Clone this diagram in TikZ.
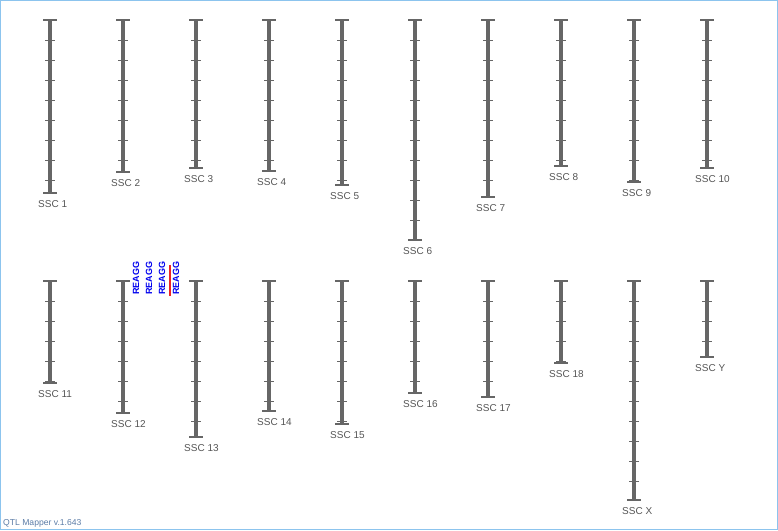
\documentclass[tikz,border=0pt]{standalone}
\usepackage{fontspec}
\setmainfont{Liberation Sans}
\usetikzlibrary{positioning}

\definecolor{barcol}{HTML}{666666}
\definecolor{lblcol}{HTML}{555555}
\definecolor{framecol}{HTML}{8CC4EE}
\definecolor{vercol}{HTML}{5A7BA6}
\definecolor{qtlblue}{HTML}{0000EE}
\definecolor{qtlred}{HTML}{EE2222}

\begin{document}
\begin{tikzpicture}[x=1pt,y=-1pt,
  chrom/.style={line width=4pt,color=barcol},
  endcap/.style={line width=1.6pt,color=barcol},
  tickmark/.style={line width=1pt,color=barcol},
  lbl/.style={anchor=west,inner sep=0pt,text=lblcol,font=\fontsize{10}{12}\selectfont},
  reagg/.style={rotate=90,anchor=west,inner sep=0pt,text=qtlblue,font=\bfseries\fontsize{9}{11}\selectfont},
  qtlbar/.style={line width=2pt,color=qtlred}]
  % canvas and frame
  \useasboundingbox (0,0) rectangle (778,530);
  \draw[framecol,line width=1pt] (0.5,0.5) rectangle (777.5,529.5);

  % chromosomes: x / top / bottom / name
  \foreach \x/\t/\b/\name in {
      50/20/193/1, 123/20/172/2, 196/20/168/3, 269/20/171/4, 342/20/185/5,
      415/20/240/6, 488/20/197/7, 561/20/166/8, 634/20/182/9, 707/20/168/10,
      50/281/383/11, 123/281/413/12, 196/281/437/13, 269/281/411/14, 342/281/424/15,
      415/281/393/16, 488/281/397/17, 561/281/363/18, 634/281/500/X, 707/281/357/Y} {
    \draw[chrom] (\x,\t) -- (\x,\b);
    \draw[endcap] (\x-7,\t) -- (\x+7,\t);
    \draw[endcap] (\x-7,\b) -- (\x+7,\b);
    % ticks every 20 units
    \pgfmathsetmacro\ya{\t+20}
    \pgfmathsetmacro\yb{\t+40}
    \pgfmathsetmacro\yz{\b-1}
    \foreach \y in {\ya,\yb,...,\yz}
      \draw[tickmark] (\x-5,\y) -- (\x+5,\y);
    \node[lbl] (ssc\name) at (\x-12,\b+11) {SSC \name};
  }

  % QTL labels next to SSC 12
  \node[reagg] (q1) at (136,295) {REAGG};
  \node[reagg] (q2) at (149,295) {REAGG};
  \node[reagg] (q3) at (162,295) {REAGG};
  \node[reagg] (q4) at (176,295) {REAGG};
  \draw[qtlbar] (170,265) -- (170,296);

  % version
  \node[anchor=base west,inner sep=0pt,text=vercol,font=\fontsize{8.6}{10}\selectfont] (ver) at (3,525) {QTL Mapper v.1.643};
\end{tikzpicture}
\end{document}
